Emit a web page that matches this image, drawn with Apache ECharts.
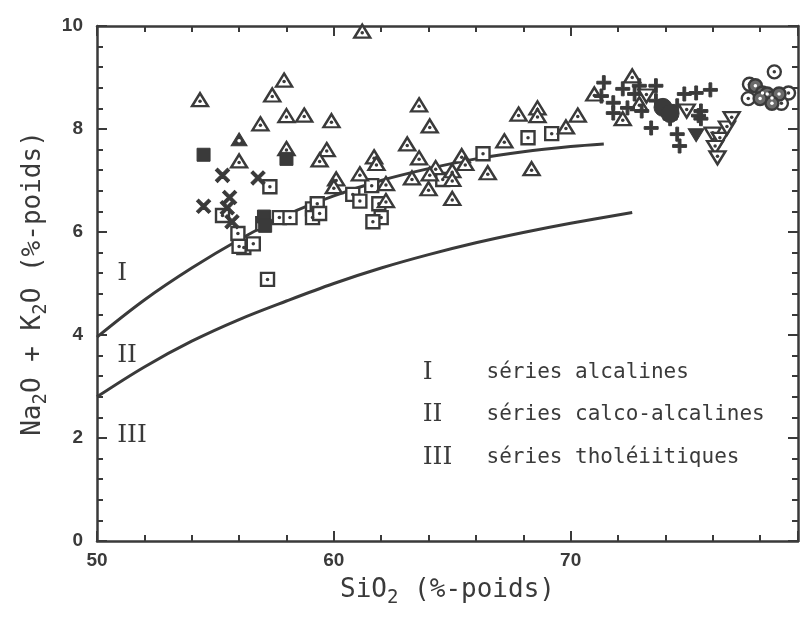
<!DOCTYPE html>
<html><head><meta charset="utf-8">
<script src="https://cdn.jsdelivr.net/npm/echarts@6/dist/echarts.min.js"></script>
<style>html,body{margin:0;padding:0;background:#fff}#c{width:804px;height:619px}</style>
</head><body><div id="c"></div>
<script>
// ---- data ----
const xTickLabels = [50, 60, 70];
const yTickLabels = [0, 2, 4, 6, 8, 10];

// Curve I/II boundary (alcalines / calco-alcalines)
const curveUpperX = [50, 52, 54, 56, 58, 60, 62, 64, 66, 68, 70, 71.4];
const curveUpperY = [3.96, 4.68, 5.3, 5.85, 6.33, 6.7, 7.0, 7.23, 7.42, 7.56, 7.66, 7.71];
// Curve II/III boundary (calco-alcalines / tholeiitiques)
const curveLowerX = [50, 52, 54, 56, 58, 60, 62, 64, 66, 68, 70, 72.6];
const curveLowerY = [2.8, 3.38, 3.88, 4.3, 4.66, 5.0, 5.3, 5.56, 5.79, 5.99, 6.17, 6.38];

const trianglePts = [
  [54.35,8.57],[57.9,8.95],[57.4,8.66],[56.9,8.1],[58.0,8.26],[58.75,8.27],[59.9,8.16],[58.0,7.62],
  [59.7,7.6],[59.4,7.4],[56.0,7.38],[61.7,7.46],[61.8,7.33],[60.1,7.03],[60.0,6.88],[61.1,7.13],
  [63.6,8.47],[64.05,8.06],[63.1,7.71],[63.6,7.44],[65.4,7.48],[65.55,7.33],[62.2,6.94],[63.3,7.05],
  [64.3,7.25],[64.05,7.13],[65.0,7.19],[65.0,7.02],[64.0,6.84],[65.0,6.65],[62.2,6.61],[61.2,9.9],
  [71.0,8.68],[67.8,8.29],[68.6,8.41],[68.6,8.26],[70.3,8.27],[69.8,8.04],[67.2,7.77],[66.5,7.15],
  [68.35,7.23],[72.6,9.03],[72.2,8.2],[72.9,8.49]
];
const squarePts = [
  [57.3,6.88],[55.3,6.32],[55.95,5.97],[56.2,5.7],[56.6,5.77],[56.0,5.72],[57.0,6.16],[57.7,6.28],
  [58.15,6.28],[59.1,6.45],[59.3,6.55],[59.1,6.28],[59.4,6.36],[57.2,5.08],[61.6,6.9],[64.6,7.02],
  [60.8,6.73],[61.1,6.6],[61.9,6.55],[62.0,6.28],[61.65,6.2],[66.3,7.52],[68.2,7.83],[69.2,7.91]
];
const crossPts = [[55.3,7.1],[56.8,7.05],[54.5,6.5],[55.6,6.67],[55.5,6.47],[55.7,6.2]];
const filledSquarePts = [[54.5,7.5],[58.0,7.42],[57.05,6.3],[57.1,6.12]];
const filledTrianglePts = [[56.0,7.8]];
const plusPts = [
  [71.4,8.9],[72.2,8.78],[71.3,8.64],[71.8,8.51],[71.8,8.31],[72.4,8.41],[72.7,8.68],[73.6,8.84],
  [73.0,8.35],[73.4,8.02],[74.2,8.2],[74.8,8.68],[75.3,8.7],[75.9,8.76],[75.4,8.26],[74.5,7.9],
  [74.6,7.67],[75.5,8.35],[75.5,8.2],[72.9,8.84],[73.6,8.55],[74.5,8.45]
];
const invTrianglePts = [[73.2,8.64],[74.9,8.35],[76.0,7.9],[76.3,7.8],[76.1,7.64],[76.2,7.44],[76.6,8.02],[76.8,8.2]];
const filledInvTrianglePts = [[75.3,7.88]];
const circlePts = [[78.6,9.11],[77.5,8.59],[77.55,8.87],[79.2,8.7],[78.9,8.5]];
const filledCirclePts = [[77.8,8.84],[78.1,8.7],[78.3,8.68],[78.5,8.6],[78.8,8.68],[78.5,8.5],[78.0,8.59]];
const blobPts = [[73.9,8.42],[74.2,8.3]];

const romanLabels = ['I', 'II', 'III'];
const legendTexts = ['séries alcalines', 'séries calco-alcalines', 'séries tholéiitiques'];

// ---- drawing ----
const ink = '#3a3a3a';
const zipXY = (xs, ys) => xs.map((x, i) => [x, ys[i]]);
const plusPath = 'path://M4,0H6V4H10V6H6V10H4V6H0V4H4Z';
const crossPath = 'path://M4.1,0H5.9V4.1H10V5.9H5.9V10H4.1V5.9H0V4.1H4.1Z';

function openSym(data, symbol, size, rotate) {
  return { type: 'scatter', data, symbol, symbolSize: size, symbolRotate: rotate || 0, silent: true,
    itemStyle: { color: '#fff', borderColor: ink, borderWidth: 2.4, opacity: 1 } };
}
function filledSym(data, symbol, size, rotate) {
  return { type: 'scatter', data, symbol, symbolSize: size, symbolRotate: rotate || 0, silent: true,
    itemStyle: { color: ink, borderColor: ink, borderWidth: 1, opacity: 1 } };
}
function dots(data, offset, color) {
  return { type: 'scatter', data, symbol: 'circle', symbolSize: 3.5, symbolOffset: offset || [0, 0], silent: true,
    itemStyle: { color: color || ink, opacity: 1 } };
}
function curve(data) {
  return { type: 'line', data, smooth: 0.35, showSymbol: false, silent: true,
    lineStyle: { color: ink, width: 3 }, z: 1 };
}

const tickCommon = {
  axisLine: { show: true, onZero: false, lineStyle: { color: ink, width: 2.5 } },
  axisTick: { show: true, inside: true, length: 10, lineStyle: { color: ink, width: 2 } },
  minorTick: { show: true, splitNumber: 5, length: 6, lineStyle: { color: ink, width: 2 } },
  splitLine: { show: false }, minorSplitLine: { show: false }
};
const labelStyle = { color: ink, fontSize: 19, fontWeight: 'bold', fontFamily: 'Liberation Sans' };
const nameStyle = { color: ink, fontSize: 26, fontFamily: 'DejaVu Sans Mono',
  rich: { s: { color: ink, fontSize: 19, fontFamily: 'DejaVu Sans Mono', padding: [16, 0, 0, 0] } } };

const chart = echarts.init(document.getElementById('c'));
chart.setOption({
  animation: false,
  backgroundColor: '#fff',
  grid: { left: 97, right: 6, top: 26, bottom: 78 },
  xAxis: [
    Object.assign({ type: 'value', min: 50, max: 79.6, interval: 10, position: 'bottom',
      axisLabel: Object.assign({ margin: 10, formatter: v => xTickLabels.includes(v) ? String(v) : '' }, labelStyle),
      name: 'SiO{s|2} (%-poids)', nameLocation: 'middle', nameGap: 32, nameTextStyle: nameStyle }, tickCommon),
    Object.assign({ type: 'value', min: 50, max: 79.6, interval: 10, position: 'top',
      axisLabel: { show: false } }, tickCommon)
  ],
  yAxis: [
    Object.assign({ type: 'value', min: 0, max: 10, interval: 2, position: 'left',
      axisLabel: Object.assign({ margin: 14, formatter: v => yTickLabels.includes(v) ? String(v) : '' }, labelStyle),
      name: 'Na{s|2}O + K{s|2}O (%-poids)', nameLocation: 'middle', nameRotate: 90, nameGap: 40,
      nameTextStyle: nameStyle }, tickCommon),
    Object.assign({ type: 'value', min: 0, max: 10, interval: 2, position: 'right',
      axisLabel: { show: false } }, tickCommon)
  ],
  series: [
    curve(zipXY(curveUpperX, curveUpperY)),
    curve(zipXY(curveLowerX, curveLowerY)),
    openSym(squarePts, 'rect', 13), dots(squarePts),
    openSym(trianglePts, 'triangle', [16, 13]), dots(trianglePts, [0, 1.5]),
    filledSym(crossPts, crossPath, 17, 45),
    filledSym(filledSquarePts, 'rect', 13),
    filledSym(filledTrianglePts, 'triangle', [16, 13]), dots(filledTrianglePts, [0, 1.5], '#fff'),
    filledSym(plusPts, plusPath, 14),
    openSym(invTrianglePts, 'triangle', [16, 13], 180), dots(invTrianglePts, [0, -1.5]),
    filledSym(filledInvTrianglePts, 'triangle', [16, 13], 180),
    filledSym(blobPts, 'circle', 18),
    openSym(circlePts, 'circle', 13), dots(circlePts),
    { type: 'scatter', data: filledCirclePts, symbol: 'circle', symbolSize: 13, silent: true,
      itemStyle: { color: '#6a6a6a', borderColor: ink, borderWidth: 2.4, opacity: 1 } },
    dots(filledCirclePts, [0, 0], '#fff')
  ]
});

// annotations placed in data coordinates
const romanLeftPos = [[50.85, 5.2], [50.85, 3.6], [50.85, 2.05]];
const legendNumPos = [63.75, [3.28, 2.45, 1.63]];
const legendTextX = 66.45;
const px = p => chart.convertToPixel({ xAxisIndex: 0, yAxisIndex: 0 }, p);
const romanFont = { fontFamily: 'DejaVu Serif', fontSize: 25, fill: ink };
const graphics = [];
romanLabels.forEach((r, i) => {
  const a = px(romanLeftPos[i]);
  graphics.push({ type: 'text', x: a[0], y: a[1], silent: true,
    style: Object.assign({ text: r, textAlign: 'left', textVerticalAlign: 'middle' }, romanFont) });
  const b = px([legendNumPos[0], legendNumPos[1][i]]);
  graphics.push({ type: 'text', x: b[0], y: b[1], silent: true,
    style: Object.assign({ text: r, textAlign: 'left', textVerticalAlign: 'middle' }, romanFont) });
  const c = px([legendTextX, legendNumPos[1][i]]);
  graphics.push({ type: 'text', x: c[0], y: c[1], silent: true,
    style: { text: legendTexts[i], textAlign: 'left', textVerticalAlign: 'middle',
      fontFamily: 'DejaVu Sans Mono', fontSize: 21, fill: ink } });
});
chart.setOption({ graphic: graphics });
</script>
</body></html>
